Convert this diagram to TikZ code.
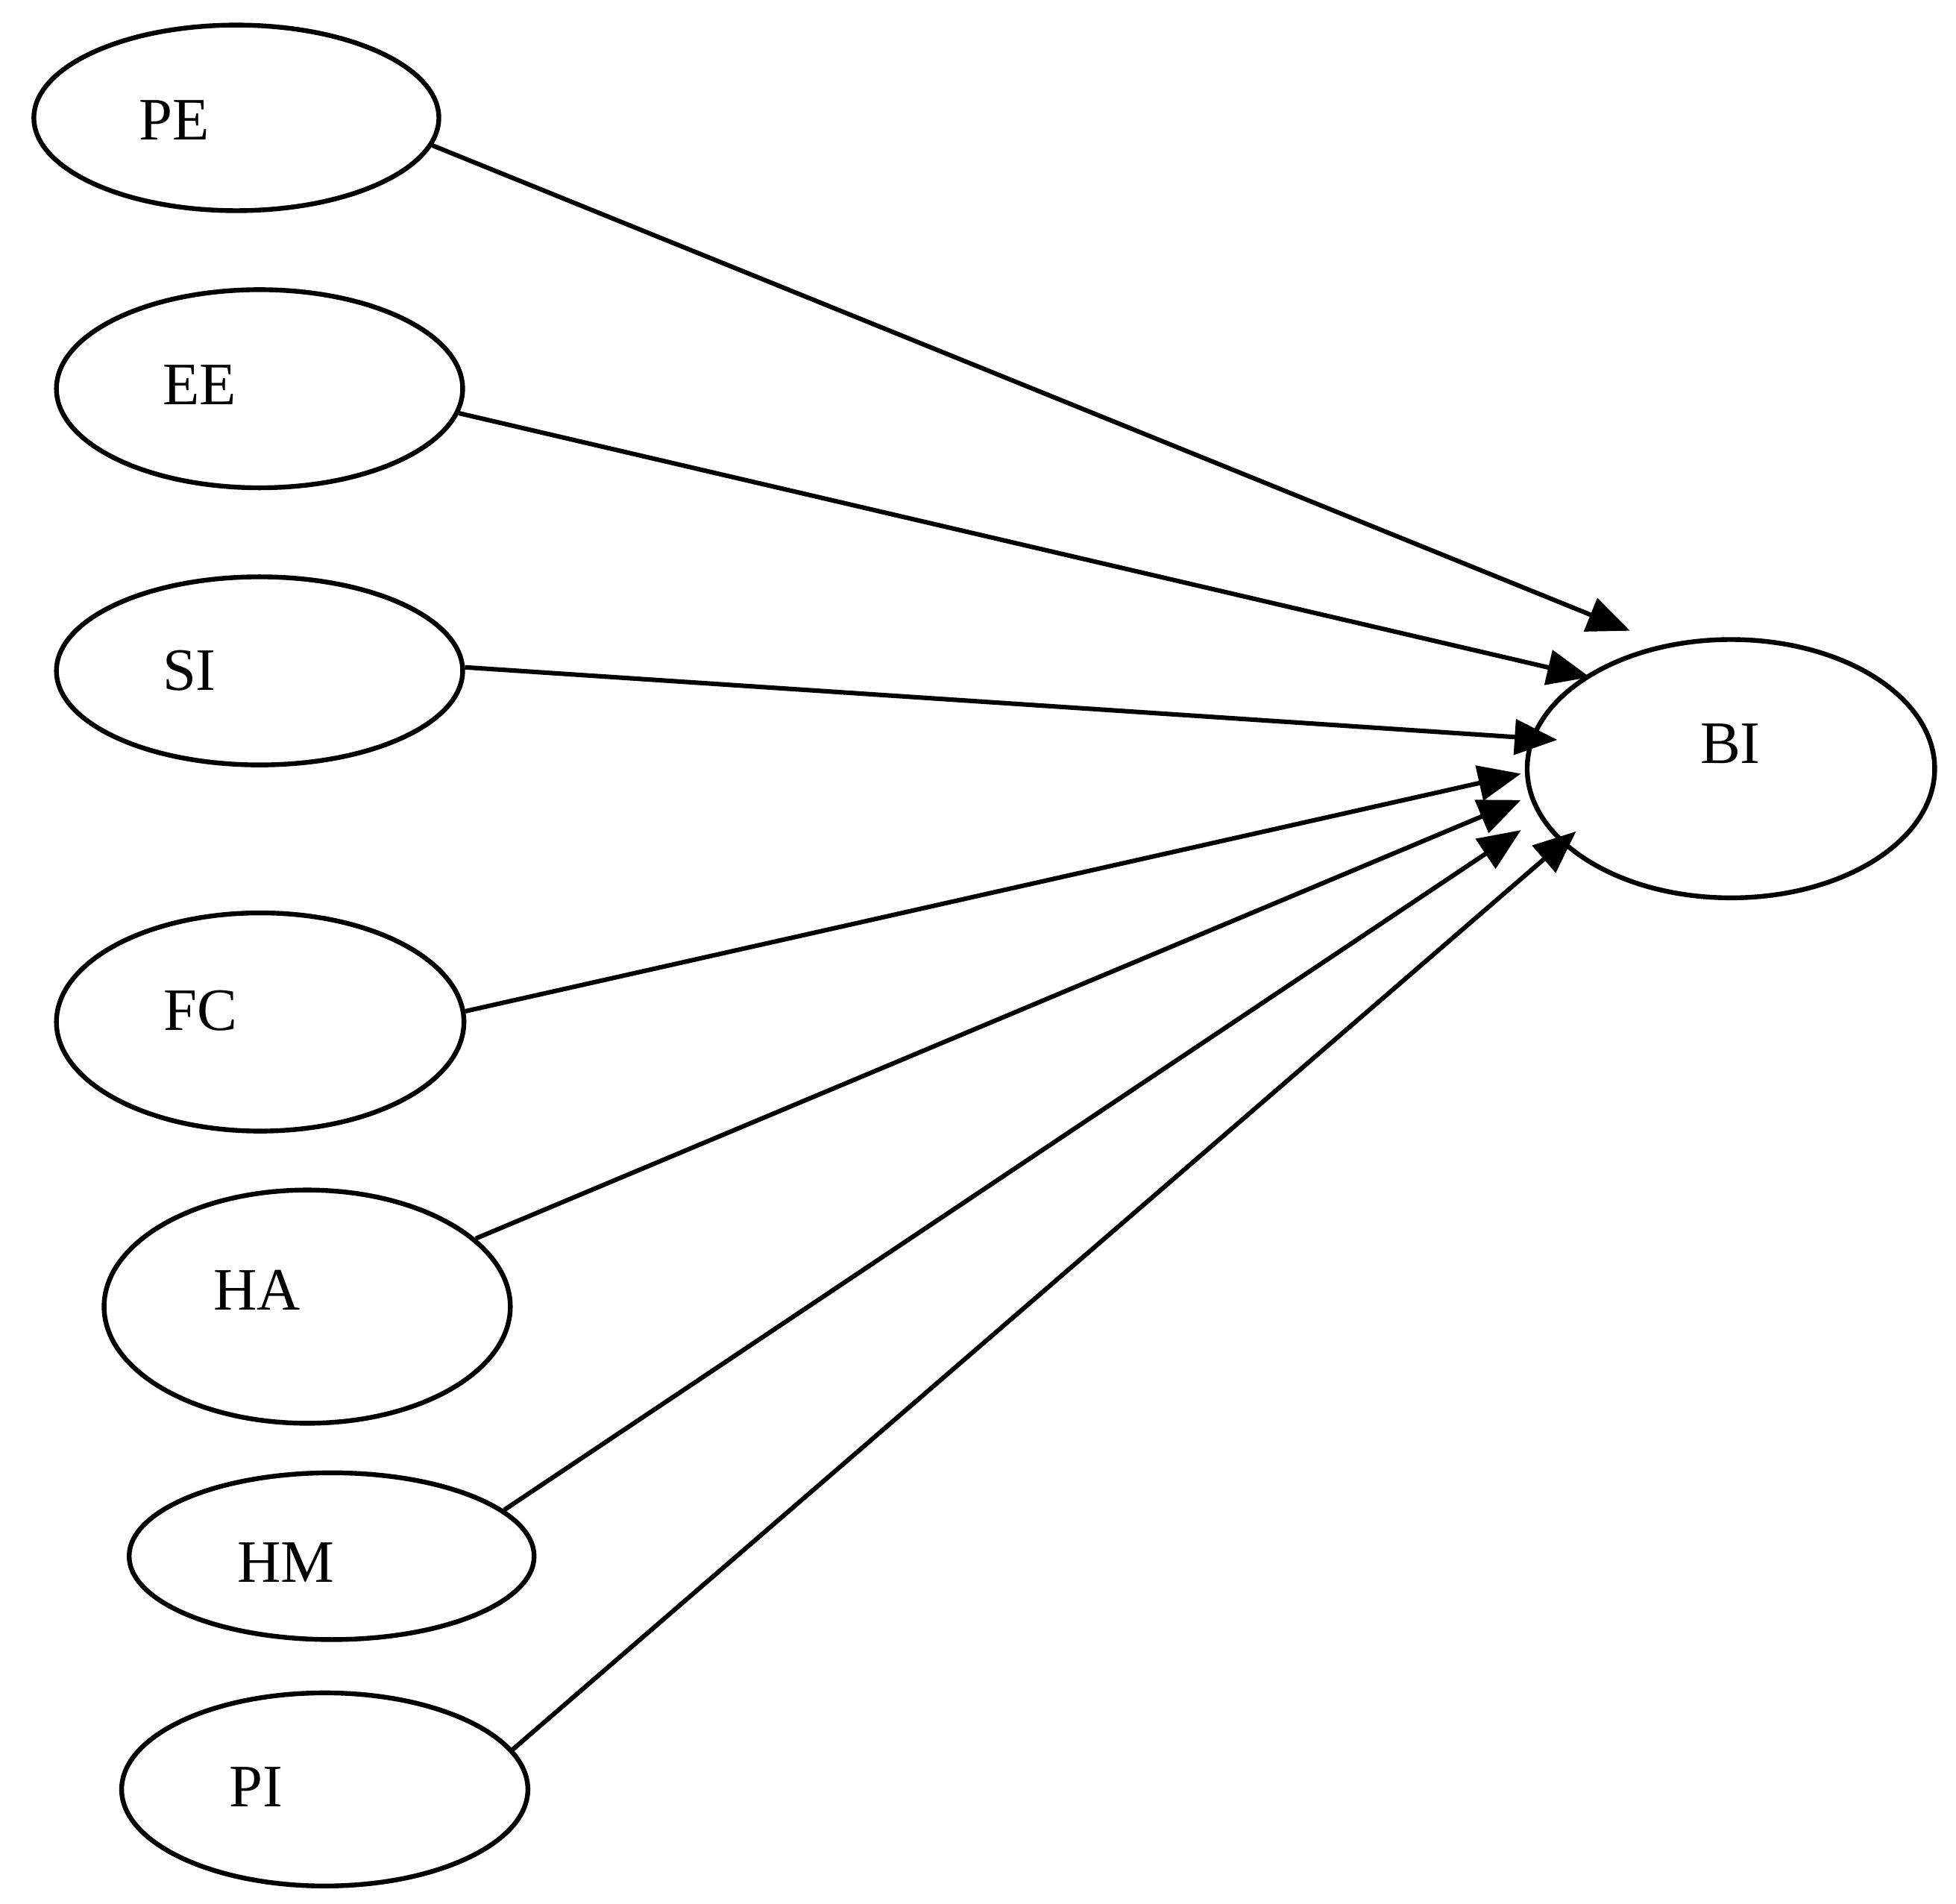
\documentclass[tikz,border=0pt]{standalone}
\usepackage{fontspec}
\setmainfont{Liberation Serif}
\usetikzlibrary{shapes.geometric,arrows.meta}
\begin{document}
\begin{tikzpicture}[x=0.5pt,y=-0.5pt,
  constr/.style={draw=black,line width=1.9pt,ellipse,inner sep=0pt},
  lbl/.style={inner sep=0pt,font=\fontsize{24}{28}\selectfont},
  path/.style={draw=black,line width=1.8pt,-{Triangle[length=17pt,width=14pt]}}]
\useasboundingbox (0,0) rectangle (1560,1518);
\node[constr,minimum width=161.5pt,minimum height=74pt] (PE) at (188.5,94) {};
\node[constr,minimum width=162pt,minimum height=79pt] (EE) at (207,310) {};
\node[constr,minimum width=162pt,minimum height=75pt] (SI) at (207,535) {};
\node[constr,minimum width=162.5pt,minimum height=87pt] (FC) at (207.5,815) {};
\node[constr,minimum width=162pt,minimum height=93pt] (HA) at (245,1042) {};
\node[constr,minimum width=161.5pt,minimum height=66.5pt] (HM) at (264.5,1241) {};
\node[constr,minimum width=162pt,minimum height=77pt] (PI) at (259,1427) {};
\node[constr,minimum width=162.5pt,minimum height=103pt] (BI) at (1380.5,613) {};
\node[lbl] (tPE) at (139,96) {PE};
\node[lbl] (tEE) at (159,307) {EE};
\node[lbl] (tSI) at (151,535) {SI};
\node[lbl] (tFC) at (160,806) {FC};
\node[lbl] (tHA) at (205,1029) {HA};
\node[lbl] (tHM) at (228,1246) {HM};
\node[lbl] (tPI) at (204,1425) {PI};
\node[lbl] (tBI) at (1380,593) {BI};
\coordinate (aPE) at (1300,503);
\coordinate (aEE) at (1268,540);
\coordinate (aSI) at (1242,590);
\coordinate (aFC) at (1213,617);
\coordinate (aHA) at (1213,638);
\coordinate (aHM) at (1213,662);
\coordinate (aPI) at (1257,663);
\draw[path] (PE.-8.6) -- (aPE);
\draw[path] (EE.-7.3) -- (aEE);
\draw[path] (SI.1.8) -- (aSI);
\draw[path] (FC.3.1) -- (aFC);
\draw[path] (HA.22.9) -- (aHA);
\draw[path] (HM.15.9) -- (aHM);
\draw[path] (PI.12) -- (aPI);
\end{tikzpicture}
\end{document}
